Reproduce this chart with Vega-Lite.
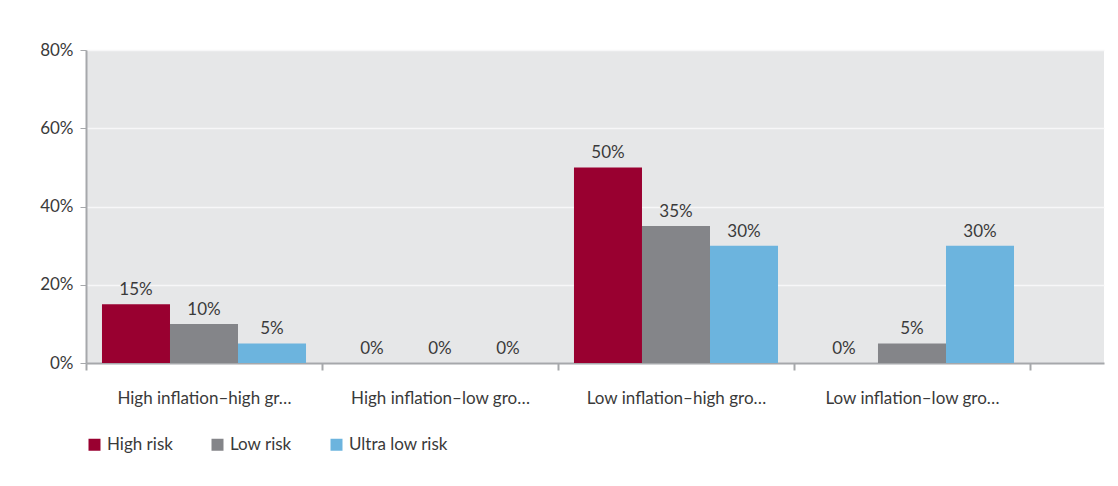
{
  "$schema": "https://vega.github.io/schema/vega-lite/v6.json",
  "padding": {"left": 8, "top": 41, "right": 14, "bottom": 0},
  "background": "#ffffff",
  "width": 1018,
  "height": 313,
  "config": {
    "view": {"stroke": null},
    "font": "Lato",
    "axis": {
      "labelFont": "Lato",
      "labelFontSize": 17,
      "labelColor": "#3a3a3a",
      "domainColor": "#a6a8ab",
      "tickColor": "#a6a8ab"
    },
    "legend": {"labelFont": "Lato", "labelFontSize": 17, "labelColor": "#3a3a3a"}
  },
  "view": {"fill": "#e6e7e8", "stroke": null},
  "data": {
    "values": [
      {"scenario": "High inflation–high growth", "risk": "High risk", "share": 0.15},
      {"scenario": "High inflation–high growth", "risk": "Low risk", "share": 0.10},
      {"scenario": "High inflation–high growth", "risk": "Ultra low risk", "share": 0.05},
      {"scenario": "High inflation–low growth", "risk": "High risk", "share": 0.0},
      {"scenario": "High inflation–low growth", "risk": "Low risk", "share": 0.0},
      {"scenario": "High inflation–low growth", "risk": "Ultra low risk", "share": 0.0},
      {"scenario": "Low inflation–high growth", "risk": "High risk", "share": 0.50},
      {"scenario": "Low inflation–high growth", "risk": "Low risk", "share": 0.35},
      {"scenario": "Low inflation–high growth", "risk": "Ultra low risk", "share": 0.30},
      {"scenario": "Low inflation–low growth", "risk": "High risk", "share": 0.0},
      {"scenario": "Low inflation–low growth", "risk": "Low risk", "share": 0.05},
      {"scenario": "Low inflation–low growth", "risk": "Ultra low risk", "share": 0.30}
    ]
  },
  "encoding": {
    "x": {
      "field": "scenario",
      "type": "nominal",
      "scale": {"paddingInner": 0, "paddingOuter": 0.1568, "align": 0},
      "axis": {
        "title": null,
        "domainWidth": 2,
        "labelAngle": 0,
        "tickBand": "extent",
        "tickSize": 7,
        "tickWidth": 2,
        "labelPadding": 20
      }
    },
    "xOffset": {
      "field": "risk",
      "type": "nominal",
      "scale": {"paddingInner": 0, "paddingOuter": 0.235}
    },
    "y": {
      "field": "share",
      "type": "quantitative",
      "scale": {"domain": [0, 0.8], "nice": false},
      "axis": {
        "title": null,
        "values": [0, 0.2, 0.4, 0.6, 0.8],
        "format": ".0%",
        "domainWidth": 2,
        "tickSize": 6,
        "labelPadding": 7,
        "gridColor": "#f7f7f8",
        "gridWidth": 1.5,
        "minExtent": 78
      }
    }
  },
  "layer": [
    {
      "mark": {"type": "bar"},
      "encoding": {
        "color": {
          "field": "risk",
          "type": "nominal",
          "scale": {
            "domain": ["High risk", "Low risk", "Ultra low risk"],
            "range": ["#990030", "#848589", "#6cb4de"]
          },
          "legend": {
            "title": null,
            "orient": "bottom",
            "direction": "horizontal",
            "offset": 30,
            "symbolType": "square",
            "symbolSize": 144,
            "columnPadding": 36
          }
        }
      }
    },
    {
      "mark": {
        "type": "text",
        "baseline": "bottom",
        "dy": -5,
        "fontSize": 17,
        "color": "#3a3a3a"
      },
      "encoding": {
        "text": {"field": "share", "type": "quantitative", "format": ".0%"}
      }
    }
  ]
}
